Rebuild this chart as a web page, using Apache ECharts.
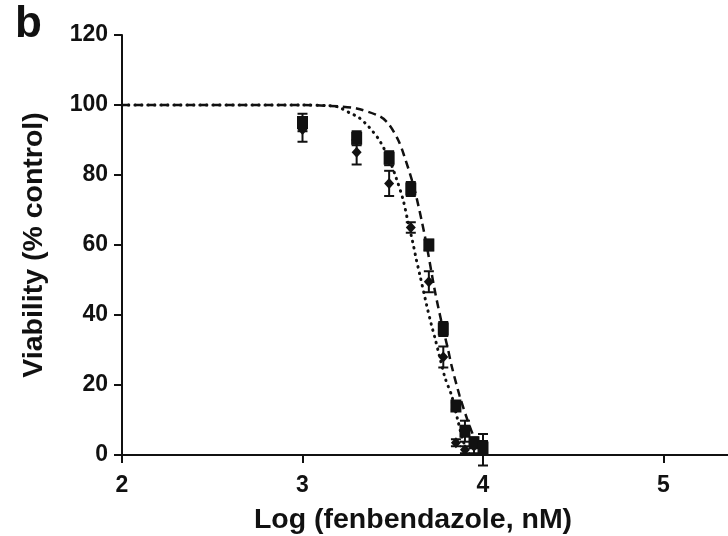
<!DOCTYPE html>
<html>
<head>
<meta charset="utf-8">
<script src="https://cdn.jsdelivr.net/npm/echarts@6/dist/echarts.min.js"></script>
<style>
html,body{margin:0;padding:0;background:#fff;}
#chart{width:728px;height:536px;}
</style>
</head>
<body>
<div id="chart"></div>
<script>
// ---- data ----
var logConc = [3.0, 3.3, 3.48, 3.6, 3.7, 3.78, 3.85, 3.9, 3.95, 4.0];
var squareMean = [95, 90.5, 84.8, 76, 60, 36, 14, 6.8, 3.5, 2];
var squareErr  = [2.5, 2, 2, 2, 1.5, 2, 1, 3, 1.5, 2];
var diamondMean = [93, 86.5, 77.6, 65, 49.5, 28, 3.5, 1.5, 2.5, 1.5];
var diamondErr  = [3.5, 3.5, 3.6, 1.5, 3, 3, 1, 1, 2, 4.5];

var dashedX = [2.0, 2.8, 3.0, 3.2, 3.3, 3.43, 3.48, 3.53, 3.56, 3.62, 3.68, 3.733, 3.77, 3.807, 3.826, 3.87, 3.918, 3.96, 4.0];
var dashedY = [100, 100, 100, 99.6, 99, 96.7, 94.4, 90, 86, 76, 62, 47, 38, 30, 25.5, 17, 9.4, 4, 1];

var dottedX = [2.0, 3.0, 3.15, 3.2, 3.26, 3.31, 3.35, 3.39, 3.43, 3.48, 3.52, 3.557, 3.585, 3.61, 3.63, 3.65, 3.687, 3.715, 3.733, 3.76, 3.79, 3.826, 3.86, 3.89, 3.92];
var dottedY = [100, 100, 99.8, 99.4, 97.8, 96.5, 94.7, 92.4, 89.6, 84.5, 79, 73, 66.5, 61, 56, 51.5, 43, 37, 33.6, 28, 22, 17, 10, 4, 0.5];

var xTicks = {min: 2, max: 6, interval: 1};
var yTicks = {min: 0, max: 120, interval: 20};

var xTitle = 'Log (fenbendazole, nM)';
var yTitle = 'Viability (% control)';
var panelLabel = 'b';

// ---- build ----
function pairs(xs, ys) { return xs.map(function (x, i) { return [x, ys[i]]; }); }
function errRows(xs, m, e) { return xs.map(function (x, i) { return [x, m[i] - e[i], m[i] + e[i]]; }); }

var FONT = '"Liberation Sans", Arial, sans-serif';
var INK = '#111';

function errRender(params, api) {
  var x = api.value(0);
  var lo = api.coord([x, api.value(1)]);
  var hi = api.coord([x, api.value(2)]);
  var half = 5;
  var st = {stroke: INK, lineWidth: 2};
  return {
    type: 'group',
    children: [
      {type: 'line', shape: {x1: lo[0], y1: lo[1], x2: hi[0], y2: hi[1]}, style: st},
      {type: 'line', shape: {x1: lo[0] - half, y1: lo[1], x2: lo[0] + half, y2: lo[1]}, style: st},
      {type: 'line', shape: {x1: hi[0] - half, y1: hi[1], x2: hi[0] + half, y2: hi[1]}, style: st}
    ]
  };
}

var chart = echarts.init(document.getElementById('chart'), null, {renderer: 'canvas'});
chart.setOption({
  animation: false,
  backgroundColor: '#fff',
  grid: {left: 122, top: 35, width: 722, height: 420, outerBoundsMode: 'none', containLabel: false},
  graphic: [{
    type: 'text', left: 15, top: 3,
    style: {text: panelLabel, font: 'bold 44px ' + FONT, fill: INK}
  }],
  xAxis: {
    type: 'value', min: xTicks.min, max: xTicks.max, interval: xTicks.interval,
    name: xTitle, nameLocation: 'middle', nameGap: 51,
    nameTextStyle: {fontFamily: FONT, fontWeight: 'bold', fontSize: 28.5, color: INK, padding: [0, 140, 0, 0]},
    axisLine: {lineStyle: {color: INK, width: 2}},
    axisTick: {length: 8, lineStyle: {color: INK, width: 2}},
    axisLabel: {fontFamily: FONT, fontWeight: 'bold', fontSize: 23, color: INK, margin: 19},
    splitLine: {show: false}
  },
  yAxis: {
    type: 'value', min: yTicks.min, max: yTicks.max, interval: yTicks.interval,
    name: yTitle, nameLocation: 'middle', nameGap: 73, nameRotate: 90,
    nameTextStyle: {fontFamily: FONT, fontWeight: 'bold', fontSize: 28.5, color: INK},
    axisLine: {lineStyle: {color: INK, width: 2}},
    axisTick: {length: 8, lineStyle: {color: INK, width: 2}},
    axisLabel: {fontFamily: FONT, fontWeight: 'bold', fontSize: 23, color: INK, margin: 14},
    splitLine: {show: false}
  },
  series: [
    {
      type: 'line', data: pairs(dottedX, dottedY), smooth: 0.3, showSymbol: false, symbol: 'none',
      lineStyle: {color: INK, width: 3, type: [0.5, 6], cap: 'round'}, z: 2
    },
    {
      type: 'line', data: pairs(dashedX, dashedY), smooth: 0.3, showSymbol: false, symbol: 'none',
      lineStyle: {color: INK, width: 2.5, type: [8, 5]}, z: 3
    },
    {type: 'custom', renderItem: errRender, data: errRows(logConc, diamondMean, diamondErr), z: 4},
    {type: 'custom', renderItem: errRender, data: errRows(logConc, squareMean, squareErr), z: 4},
    {
      type: 'scatter', data: pairs(logConc, diamondMean), symbol: 'diamond', symbolSize: [10, 11],
      itemStyle: {color: INK, opacity: 1}, z: 5
    },
    {
      type: 'scatter', data: pairs(logConc, squareMean), symbol: 'rect', symbolSize: [11, 13],
      itemStyle: {color: INK, opacity: 1}, z: 6
    }
  ]
});
</script>
</body>
</html>
